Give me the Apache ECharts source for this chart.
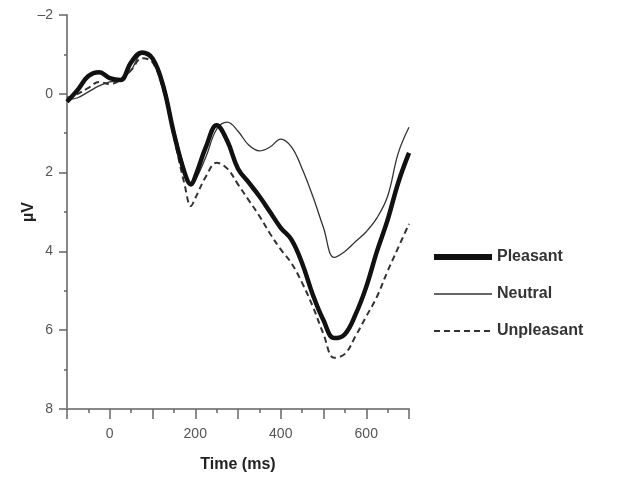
<!DOCTYPE html>
<html>
<head>
<meta charset="utf-8">
<script src="https://cdn.jsdelivr.net/npm/echarts@6/dist/echarts.min.js"></script>
<style>
  html, body { margin: 0; padding: 0; background: #fff; }
  #main { width: 618px; height: 481px; }
</style>
</head>
<body>
<div id="main"></div>
<script>
// time points (ms)
var times = [-100, -75, -50, -25, 0, 25, 50, 75, 100, 125, 150, 175, 190, 200, 225, 250, 275,
  300, 325, 350, 375, 400, 425, 450, 475, 500, 525, 550, 575, 600, 625, 650, 675, 700];
// amplitudes (µV)
var pleasant = [0.2, -0.1, -0.45, -0.55, -0.4, -0.35, -0.8, -1.05, -0.9, -0.2, 1.0, 2.0, 2.3, 2.1, 1.35, 0.8, 1.2,
  1.9, 2.25, 2.6, 3.0, 3.4, 3.7, 4.3, 5.1, 5.75, 6.2, 6.1, 5.6, 4.9, 4.0, 3.2, 2.25, 1.5];
var neutral = [0.15, 0.1, -0.05, -0.2, -0.3, -0.35, -0.6, -1.0, -0.85, -0.3, 0.9, 1.9, 2.3, 2.2, 1.6, 0.9, 0.72,
  0.95, 1.3, 1.45, 1.35, 1.15, 1.35, 1.9, 2.6, 3.4, 4.15, 4.0, 3.75, 3.5, 3.15, 2.6, 1.5, 0.85];
var unpleasant = [0.1, 0.0, -0.15, -0.3, -0.25, -0.35, -0.6, -0.9, -0.8, -0.1, 1.1, 2.3, 2.85, 2.65, 2.1, 1.75, 1.9,
  2.3, 2.7, 3.1, 3.55, 3.95, 4.3, 4.8, 5.4, 6.1, 6.7, 6.6, 6.15, 5.65, 5.15, 4.5, 3.9, 3.3];
var xLabels = [0, 200, 400, 600];

function pairs(vals) {
  var out = [];
  for (var i = 0; i < times.length; i++) {
    out.push([times[i], vals[i]]);
  }
  return out;
}

var myChart = echarts.init(document.getElementById("main"));
myChart.setOption({
  animation: false,
  grid: { left: 67, right: 209, top: 15, bottom: 72 },
  legend: {
    orient: "vertical",
    left: 426,
    top: 244,
    itemWidth: 58,
    itemHeight: 14,
    itemGap: 21,
    itemStyle: { opacity: 0 },
    textStyle: { fontFamily: "Liberation Sans", fontSize: 16, fontWeight: "bold", color: "#333" },
    data: [
      { name: "Pleasant", lineStyle: { width: 6, color: "#111" } },
      { name: "Neutral", lineStyle: { width: 1.3, color: "#333" } },
      { name: "Unpleasant", lineStyle: { width: 2, color: "#333", type: [6, 4] } }
    ]
  },
  xAxis: {
    type: "value",
    min: -100,
    max: 700,
    interval: 100,
    name: "Time (ms)",
    nameLocation: "middle",
    nameGap: 48,
    nameTextStyle: { fontFamily: "Liberation Sans", fontSize: 16, fontWeight: "bold", color: "#222" },
    axisLine: { onZero: false, lineStyle: { color: "#888", width: 2 } },
    axisTick: { length: 10, lineStyle: { color: "#666", width: 1.5 } },
    minorTick: { show: true, splitNumber: 2, length: 4, lineStyle: { color: "#666", width: 1.5 } },
    axisLabel: {
      margin: 18,
      fontFamily: "Liberation Sans",
      fontSize: 14,
      color: "#555",
      formatter: function (v) {
        return xLabels.indexOf(v) >= 0 ? String(v) : "";
      }
    },
    splitLine: { show: false }
  },
  yAxis: {
    type: "value",
    inverse: true,
    min: -2,
    max: 8,
    interval: 2,
    name: "µV",
    nameLocation: "middle",
    nameGap: 30,
    nameRotate: 90,
    nameMoveOverlap: false,
    nameTextStyle: { fontFamily: "Liberation Sans", fontSize: 16, fontWeight: "bold", color: "#222" },
    axisLine: { show: true, onZero: false, lineStyle: { color: "#888", width: 2 } },
    axisTick: { show: true, length: 8, lineStyle: { color: "#666", width: 1.5 } },
    minorTick: { show: true, splitNumber: 2, length: 3, lineStyle: { color: "#666", width: 1.5 } },
    axisLabel: {
      margin: 14,
      fontFamily: "Liberation Sans",
      fontSize: 14,
      color: "#555",
      formatter: function (v) {
        return v < 0 ? "\u2013" + Math.abs(v) : String(v);
      }
    },
    splitLine: { show: false }
  },
  series: [
    {
      name: "Pleasant",
      type: "line",
      data: pairs(pleasant),
      smooth: 0.4,
      symbol: "none",
      z: 3,
      lineStyle: { color: "#111", width: 4.5 },
      itemStyle: { color: "#111" }
    },
    {
      name: "Neutral",
      type: "line",
      data: pairs(neutral),
      smooth: 0.4,
      symbol: "none",
      z: 2,
      lineStyle: { color: "#333", width: 1.3 },
      itemStyle: { color: "#333" }
    },
    {
      name: "Unpleasant",
      type: "line",
      data: pairs(unpleasant),
      smooth: 0.4,
      symbol: "none",
      z: 1,
      lineStyle: { color: "#333", width: 2, type: [6, 4] },
      itemStyle: { color: "#333" }
    }
  ]
});
</script>
</body>
</html>
